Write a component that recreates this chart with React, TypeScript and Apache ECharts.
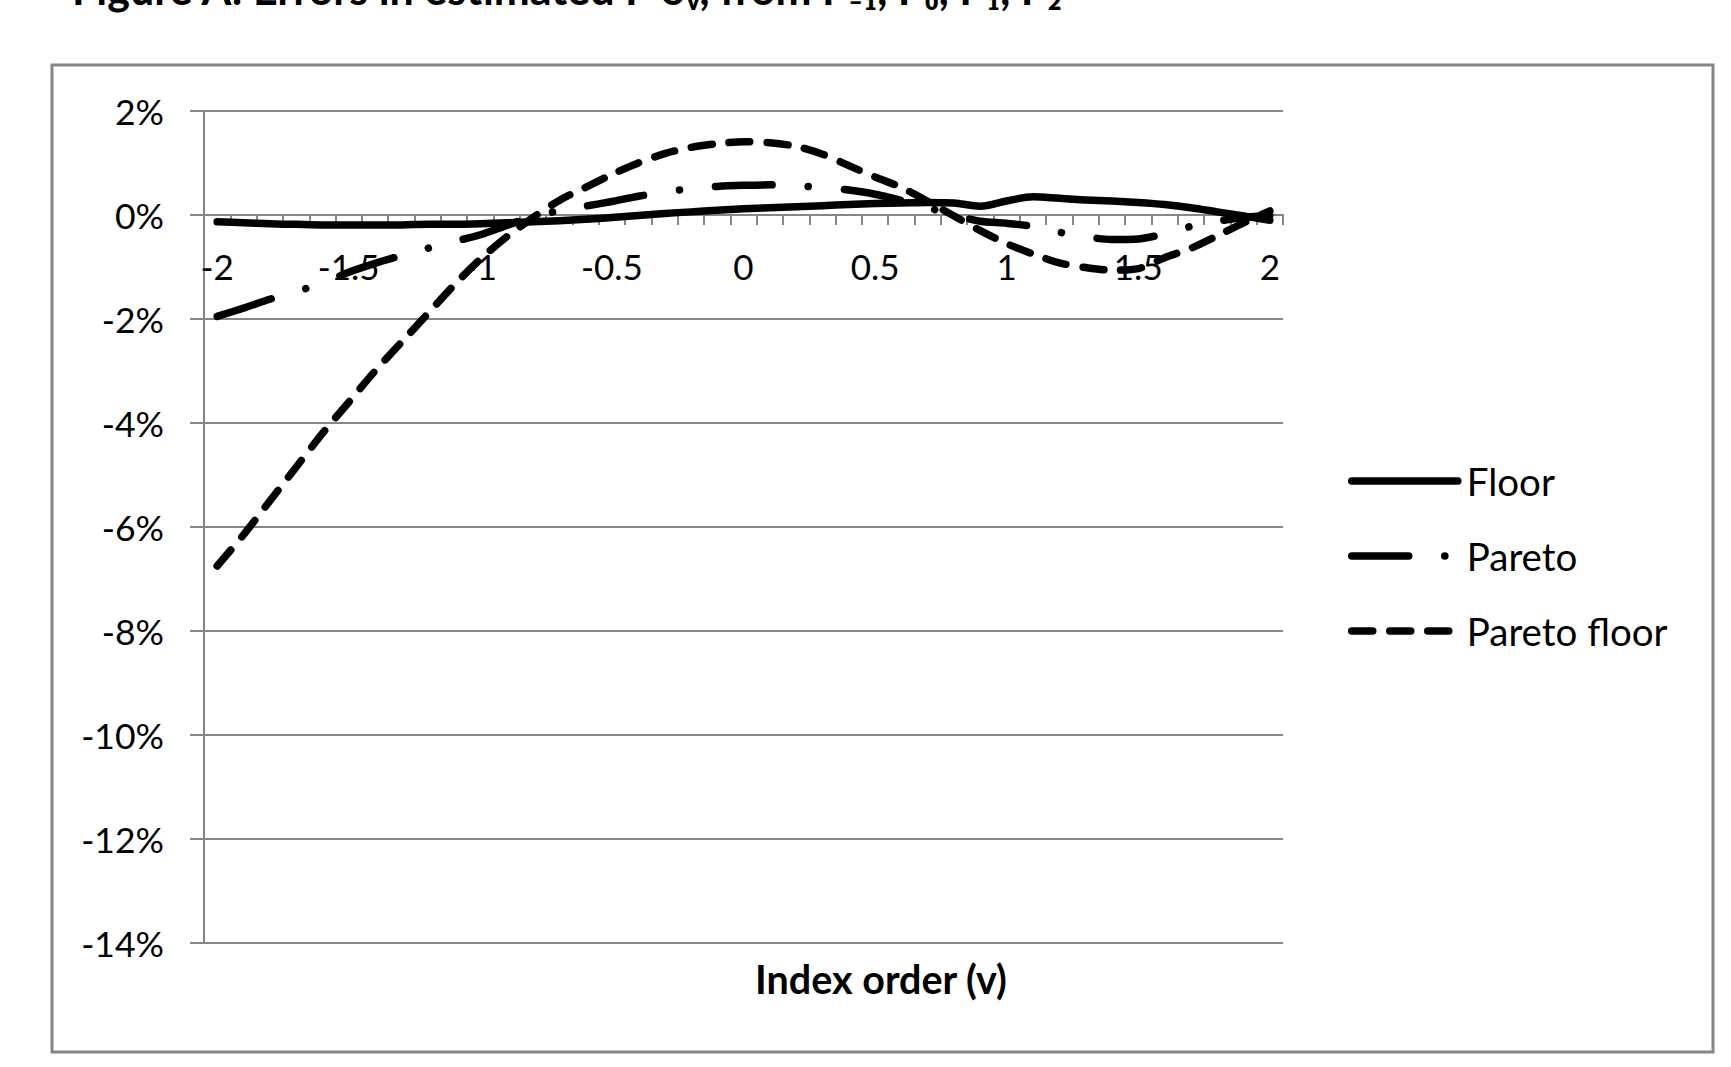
import React, { useEffect, useRef } from "react";
import * as echarts from "echarts";

const categories = [
  "-2", "-1.9", "-1.8", "-1.7", "-1.6", "-1.5", "-1.4", "-1.3", "-1.2", "-1.1",
  "-1", "-0.9", "-0.8", "-0.7", "-0.6", "-0.5", "-0.4", "-0.3", "-0.2", "-0.1",
  "0", "0.1", "0.2", "0.3", "0.4", "0.5", "0.6", "0.7", "0.8", "0.9",
  "1", "1.1", "1.2", "1.3", "1.4", "1.5", "1.6", "1.7", "1.8", "1.9", "2",
];

const floorValues = [
  -0.13, -0.15, -0.17, -0.18, -0.19, -0.19, -0.19, -0.19, -0.18, -0.18,
  -0.17, -0.15, -0.13, -0.11, -0.08, -0.05, -0.01, 0.03, 0.06, 0.09,
  0.12, 0.14, 0.16, 0.18, 0.2, 0.22, 0.23, 0.24, 0.23, 0.17,
  0.27, 0.35, 0.32, 0.29, 0.27, 0.24, 0.2, 0.14, 0.06, -0.02, -0.1,
];

const paretoValues = [
  -1.95, -1.79, -1.62, -1.47, -1.31, -1.1, -0.93, -0.78, -0.64, -0.51,
  -0.38, -0.2, -0.03, 0.08, 0.17, 0.26, 0.36, 0.44, 0.51, 0.55,
  0.57, 0.58, 0.56, 0.53, 0.48, 0.4, 0.28, 0.14, 0.0, -0.12,
  -0.16, -0.22, -0.33, -0.42, -0.47, -0.46, -0.36, -0.22, -0.12, -0.05, 0.0,
];

const paretoFloorValues = [
  -6.75, -6.15, -5.5, -4.85, -4.2, -3.6, -3.0, -2.45, -1.9, -1.35,
  -0.85, -0.42, -0.05, 0.28, 0.53, 0.78, 1.0, 1.18, 1.3, 1.37,
  1.41, 1.39, 1.32, 1.17, 0.95, 0.73, 0.53, 0.26, -0.02, -0.3,
  -0.55, -0.75, -0.92, -1.01, -1.06, -1.03, -0.82, -0.64, -0.4, -0.15, 0.08,
];

const seriesNames = ["Floor", "Pareto", "Pareto floor"];
const yTicks = { min: -14, max: 2, interval: 2 };

const titleText = "Figure A: Errors in estimated P σᵥ, from P₋₁, P₀, P₁, P₂";
const xAxisTitle = "Index order (v)";

const GRAY = "#868686";
const FONT = "Lato";

export default function App() {
  const ref = useRef<HTMLDivElement>(null);
  useEffect(() => {
    if (!ref.current) return;
    const chart = echarts.init(ref.current, undefined, { renderer: "svg" });
    const lw = 7.5;
    const gridTop = 111;
    const gridBottom = 124;
    const plotH = 1067 - gridTop - gridBottom;
    const zeroOffset = -(plotH * (0 - yTicks.min)) / (yTicks.max - yTicks.min);
    chart.setOption({
      animation: false,
      backgroundColor: "#ffffff",
      grid: { left: 204, right: 448, top: gridTop, bottom: gridBottom, containLabel: false },
      legend: {
        orient: "vertical",
        left: 1343,
        top: 456,
        itemWidth: 106,
        itemHeight: 8,
        itemGap: 35,
        data: seriesNames,
        itemStyle: { opacity: 0 },
        lineStyle: { width: lw, cap: "round" },
        textStyle: { fontFamily: FONT, fontSize: 38.5, color: "#000", lineHeight: 40, padding: [0, 0, 0, 4] },
      },
      xAxis: {
        type: "category",
        data: categories,
        boundaryGap: true,
        position: "bottom",
        offset: zeroOffset,
        axisLine: { onZero: false, lineStyle: { color: GRAY, width: 2 } },
        axisTick: { show: true, interval: 0, length: 10, lineStyle: { color: GRAY, width: 2 } },
        axisLabel: { interval: 4, fontFamily: FONT, fontSize: 35, color: "#000", margin: 33 },
        splitLine: { show: false },
      },
      yAxis: {
        type: "value",
        min: yTicks.min,
        max: yTicks.max,
        interval: yTicks.interval,
        axisLine: { show: true, lineStyle: { color: GRAY, width: 2 } },
        axisTick: { show: true, length: 14, lineStyle: { color: GRAY, width: 2 } },
        axisLabel: { formatter: "{value}%", fontFamily: FONT, fontSize: 35.5, color: "#000", margin: 40 },
        splitLine: { show: true, lineStyle: { color: GRAY, width: 2 } },
      },
      series: [
        {
          name: seriesNames[0],
          type: "line",
          data: floorValues,
          symbol: "none",
          smooth: 0.3,
          lineStyle: { color: "#000", width: lw, cap: "round", join: "round" },
          itemStyle: { color: "#000" },
        },
        {
          name: seriesNames[1],
          type: "line",
          data: paretoValues,
          symbol: "none",
          smooth: 0.3,
          lineStyle: { color: "#000", width: lw, type: [57, 36, 0.1, 36], cap: "round", join: "round" },
          itemStyle: { color: "#000" },
        },
        {
          name: seriesNames[2],
          type: "line",
          data: paretoFloorValues,
          symbol: "none",
          smooth: 0.3,
          lineStyle: { color: "#000", width: lw, type: [21, 17], cap: "round", join: "round" },
          itemStyle: { color: "#000" },
        },
      ],
      graphic: [
        {
          type: "rect",
          shape: { x: 52, y: 65, width: 1661, height: 987 },
          style: { fill: "none", stroke: GRAY, lineWidth: 3 },
          silent: true,
        },
        {
          type: "text",
          x: 881,
          y: 978,
          style: {
            text: xAxisTitle,
            fontFamily: FONT,
            fontWeight: "bold",
            fontSize: 39.5,
            fill: "#000",
            align: "center",
            verticalAlign: "middle",
          },
        },
        {
          type: "text",
          x: 72,
          y: 10,
          style: {
            text: titleText,
            fontFamily: FONT,
            fontWeight: "bold",
            fontSize: 43,
            fill: "#000",
            align: "left",
            verticalAlign: "bottom",
          },
        },
      ],
    });
    return () => chart.dispose();
  }, []);
  return (
    <div
      ref={ref}
      style={{ position: "fixed", left: 0, top: 0, width: 1731, height: 1067 }}
    />
  );
}
